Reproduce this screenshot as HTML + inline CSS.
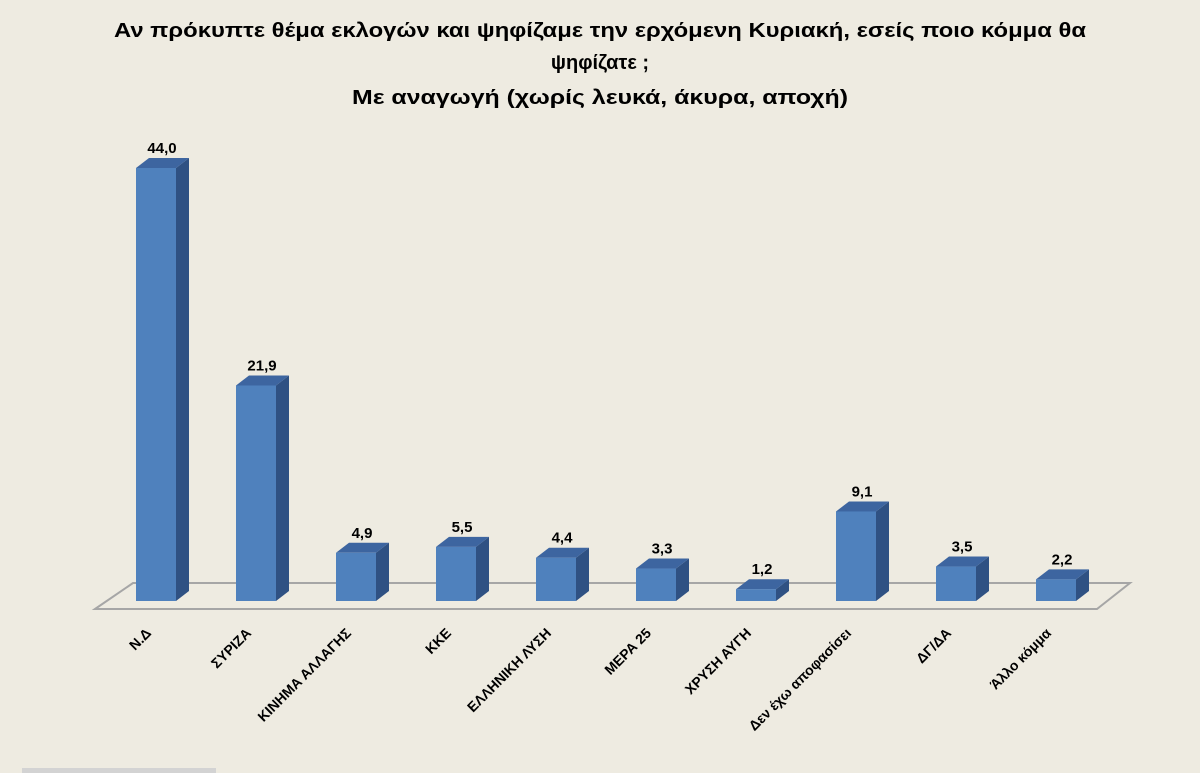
<!DOCTYPE html>
<html><head><meta charset="utf-8"><style>
html,body{margin:0;padding:0;background:#EEEBE1;}
svg{display:block;font-family:"Liberation Sans",sans-serif;}
</style></head><body>
<svg width="1200" height="773" viewBox="0 0 1200 773">
<rect x="0" y="0" width="1200" height="773" fill="#EEEBE1"/>
<g font-weight="bold" font-size="20" fill="#000" text-anchor="middle">
<text x="600" y="37" textLength="972" lengthAdjust="spacingAndGlyphs">Αν πρόκυπτε θέμα εκλογών και ψηφίζαμε την ερχόμενη Κυριακή, εσείς ποιο κόμμα θα</text>
<text x="600" y="69">ψηφίζατε ;</text>
<text x="600" y="104" textLength="496" lengthAdjust="spacingAndGlyphs">Με αναγωγή (χωρίς λευκά, άκυρα, αποχή)</text>
</g>
<polygon points="95,609 133,583 1130,583 1097,609" fill="none" stroke="#A6A6A6" stroke-width="2"/>
<g id="bars"></g>
<rect x="22" y="768" width="194" height="5" fill="#D3D3D3"/>
<script>
const categories = ["Ν.Δ","ΣΥΡΙΖΑ","ΚΙΝΗΜΑ ΑΛΛΑΓΗΣ","ΚΚΕ","ΕΛΛΗΝΙΚΗ ΛΥΣΗ","ΜΕΡΑ 25","ΧΡΥΣΗ ΑΥΓΗ","Δεν έχω αποφασίσει","ΔΓ/ΔΑ","Άλλο κόμμα"];
const values = [44.0,21.9,4.9,5.5,4.4,3.3,1.2,9.1,3.5,2.2];
const valueLabels = ["44,0","21,9","4,9","5,5","4,4","3,3","1,2","9,1","3,5","2,2"];
const NS="http://www.w3.org/2000/svg";
const baseY=601, pxPer=433/44, x0=136, step=100, bw=40, dx=13, dy=10;
function xPos(i){return x0+i*step;}
function yPos(v){return baseY-v*pxPer;}
const g=document.getElementById('bars');
function mk(tag,attrs){const e=document.createElementNS(NS,tag);for(const k in attrs)e.setAttribute(k,attrs[k]);return e;}
categories.forEach((c,i)=>{
  const x=xPos(i), yt=yPos(values[i]);
  const grp=mk('g',{});
  
  
  const side=mk('polygon',{points:`${x+bw},${yt} ${x+bw+dx},${yt-dy} ${x+bw+dx},${baseY-dy} ${x+bw},${baseY}`,fill:'#2F5183'});
  const top=mk('polygon',{points:`${x},${yt} ${x+dx},${yt-dy} ${x+bw+dx},${yt-dy} ${x+bw},${yt}`,fill:'#3D65A0'});
  const front=mk('rect',{x:x,y:yt,width:bw,height:baseY-yt,fill:'#4F81BD'});
  grp.appendChild(side);grp.appendChild(top);grp.appendChild(front);
  g.appendChild(grp);
  const vl=mk('text',{x:x+bw/2+6,y:yt-dy-5,'text-anchor':'middle','font-size':'15','font-weight':'bold',fill:'#000'});
  vl.textContent=valueLabels[i];
  
  
  g.appendChild(vl);
  const cx=x+bw/2-4, cy=634;
  const cl=mk('text',{x:cx,y:cy,'text-anchor':'end','font-size':'14','font-weight':'bold',fill:'#000',transform:`rotate(-45 ${cx} ${cy})`});
  cl.textContent=c;
  
  
  g.appendChild(cl);
});
</script>
</svg>
</body></html>
